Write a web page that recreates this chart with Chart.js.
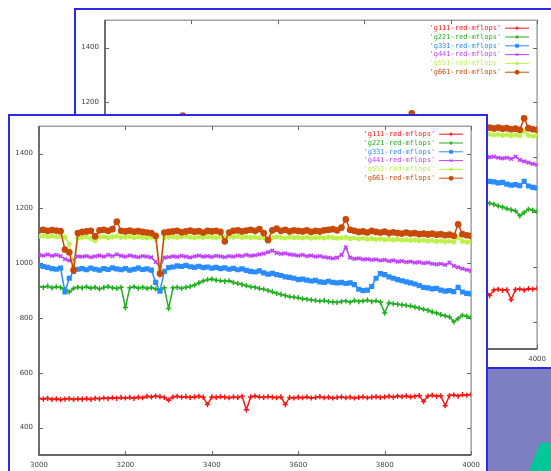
<!DOCTYPE html>
<html>
<head>
<meta charset="utf-8">
<script src="https://cdn.jsdelivr.net/npm/chart.js@4.4.1/dist/chart.umd.min.js"></script>
<style>
html, body { margin: 0; padding: 0; background: #fff; }
body { width: 551px; height: 471px; overflow: hidden; position: relative; }
.panel { position: absolute; width: 476px; height: 357px; border: 2px solid #2b2be6; background: #fff; }
.panel canvas { position: absolute; left: 0; top: 0; }
#desk { position: absolute; left: 488px; top: 369px; width: 63px; height: 102px; background: #7f7fc3; }
#shape { position: absolute; left: 529px; top: 443px; width: 22px; height: 28px; background: #00c896;
         clip-path: polygon(11px 0, 22px 0, 22px 28px, 0 28px); }
</style>
</head>
<body>
<div id="desk"></div>
<div id="shape"></div>
<div class="panel" style="left:74px; top:8px;"><canvas id="back" width="476" height="357"></canvas></div>
<div class="panel" style="left:8px; top:114px;"><canvas id="front" width="476" height="357"></canvas></div>
<script>
// one sample every 10 units, 3000..4000
const xs = Array.from({ length: 101 }, (_, i) => 3000 + i * 10);
const xTicks = [3000, 3200, 3400, 3600, 3800, 4000];
const yTicks = [400, 600, 800, 1000, 1200, 1400];

const names = ["'g111-red-mflops'", "'g221-red-mflops'", "'g331-red-mflops'",
               "'g441-red-mflops'", "'g551-red-mflops'", "'g661-red-mflops'"];
const colors = ['#ff1414', '#22ad22', '#2a8cff', '#c040ff', '#bdf04a', '#c84a08'];
const marks = ['cross', 'cross', 'rect', 'crossRot', 'star', 'circle'];

const g111 = [506,504,507,503,505,502,504,506,503,505,
              504,506,503,507,505,508,506,509,507,510,
              508,510,507,511,509,514,512,515,513,510,
              500,512,514,511,513,510,512,514,511,484,
              512,510,513,511,509,512,510,514,465,512,
              515,512,510,513,511,509,512,484,510,508,
              511,509,512,508,510,513,509,511,508,510,
              512,509,511,508,510,512,509,511,513,510,
              512,514,511,515,513,516,512,514,517,495,
              515,518,514,516,480,517,519,515,520,518,521];
const g221 = [915,912,916,910,914,911,905,895,908,912,
              910,914,909,912,906,911,915,910,908,912,
              838,910,914,909,912,908,911,906,900,910,
              835,910,912,908,912,915,920,928,935,940,
              942,938,936,934,936,930,926,922,918,914,
              912,908,905,900,896,890,886,882,878,876,
              874,870,868,866,864,862,864,860,858,857,
              860,862,858,864,860,862,865,860,863,858,
              818,855,852,850,848,846,844,840,836,832,
              828,822,818,812,808,804,786,798,810,806,802];
const g331 = [992,988,985,980,978,982,895,945,970,978,
              980,976,982,978,975,980,977,983,979,976,
              980,975,978,982,977,979,975,930,898,970,
              984,986,990,988,992,987,985,989,984,986,
              982,985,980,983,978,981,976,979,974,970,
              968,972,965,960,963,958,955,950,948,945,
              940,942,938,935,937,932,930,934,930,928,
              930,926,928,922,905,900,902,915,945,962,
              958,950,945,940,936,932,928,924,918,912,
              910,906,908,902,898,900,896,912,895,890,888];
const g441 = [1030,1028,1032,1027,1030,1026,1015,1010,1012,1025,
              1024,1026,1022,1025,1028,1024,1030,1026,1032,1027,
              1024,1028,1025,1022,1026,1024,1021,1005,985,1020,
              1022,1025,1023,1027,1024,1021,1025,1028,1024,1026,
              1023,1027,1025,1022,1026,1024,1028,1026,1030,1027,
              1029,1032,1035,1040,1046,1038,1034,1036,1032,1030,
              1028,1030,1026,1028,1024,1026,1022,1020,1018,1020,
              1030,1058,1020,1016,1018,1014,1015,1012,1014,1010,
              1012,1008,1010,1006,1008,1004,1006,1002,1004,1000,
              1002,998,996,998,994,1002,990,985,980,976,972];
const g551 = [1098,1100,1097,1099,1096,1098,1095,1070,985,1092,
              1094,1096,1090,1082,1095,1097,1093,1096,1099,1094,
              1095,1097,1093,1096,1094,1092,1095,1090,975,1093,
              1095,1097,1094,1096,1098,1095,1093,1096,1094,1097,
              1095,1093,1096,1094,1097,1095,1098,1094,1096,1093,
              1095,1092,1094,1080,1093,1096,1094,1092,1095,1093,
              1094,1092,1095,1091,1093,1094,1092,1095,1093,1091,
              1092,1094,1090,1092,1089,1091,1088,1090,1087,1089,
              1086,1088,1085,1087,1084,1086,1083,1085,1082,1084,
              1081,1083,1080,1082,1079,1081,1078,1095,1080,1077,1078];
const g661 = [1120,1122,1118,1121,1119,1117,1050,1040,975,1110,
              1114,1116,1118,1098,1120,1122,1118,1124,1152,1118,
              1116,1119,1115,1117,1114,1112,1110,1100,962,1112,
              1114,1116,1118,1113,1116,1119,1115,1117,1112,1118,
              1116,1118,1114,1080,1112,1118,1120,1116,1119,1122,
              1118,1124,1110,1085,1120,1126,1118,1122,1116,1120,
              1118,1116,1120,1114,1118,1116,1120,1122,1124,1120,
              1130,1160,1122,1118,1114,1116,1112,1118,1114,1112,
              1115,1110,1113,1110,1108,1112,1108,1110,1106,1108,
              1105,1108,1104,1106,1102,1104,1100,1142,1106,1102,1100];
const series = [g111, g221, g331, g441, g551, g661];

// gnuplot style frame with inward ticks on all four sides
const framePlugin = {
    id: 'frame',
    beforeDatasetsDraw(chart) {
        const { ctx, chartArea: a, scales: { x, y } } = chart;
        ctx.save();
        ctx.strokeStyle = '#8a8a8a';
        ctx.lineWidth = 1.2;
        ctx.strokeRect(a.left, a.top, a.right - a.left, a.bottom - a.top);
        ctx.strokeStyle = '#666';
        ctx.lineWidth = 1.8;
        ctx.beginPath();
        ctx.moveTo(a.left, a.top); ctx.lineTo(a.left, a.bottom); ctx.lineTo(a.right, a.bottom);
        ctx.stroke();
        ctx.lineWidth = 1;
        ctx.beginPath();
        xTicks.forEach(v => {
            const px = Math.round(x.getPixelForValue(v)) + 0.5;
            ctx.moveTo(px, a.bottom); ctx.lineTo(px, a.bottom - 4);
            ctx.moveTo(px, a.top); ctx.lineTo(px, a.top + 4);
        });
        yTicks.forEach(v => {
            const py = Math.round(y.getPixelForValue(v)) + 0.5;
            ctx.moveTo(a.left, py); ctx.lineTo(a.left + 4, py);
            ctx.moveTo(a.right, py); ctx.lineTo(a.right - 4, py);
        });
        ctx.stroke();
        ctx.restore();
    }
};

// key in the top right corner: text, then a sample of the line
const keyPlugin = {
    id: 'key',
    afterDatasetsDraw(chart) {
        const { ctx, chartArea: a } = chart;
        ctx.save();
        ctx.font = '7px "DejaVu Sans Mono"';
        ctx.textAlign = 'right';
        ctx.textBaseline = 'middle';
        names.forEach((name, i) => {
            const yy = a.top + 8 + i * 8.8;
            ctx.fillStyle = colors[i];
            ctx.fillText(name, a.right - 36, yy);
            ctx.strokeStyle = colors[i];
            ctx.lineWidth = 1;
            ctx.beginPath();
            ctx.moveTo(a.right - 32, yy);
            ctx.lineTo(a.right - 8, yy);
            ctx.stroke();
            Chart.helpers.drawPoint(ctx, {
                pointStyle: marks[i], radius: 2, borderWidth: 1
            }, a.right - 20, yy);
        });
        ctx.restore();
    }
};

const makeChart = (canvas) => new Chart(canvas.getContext('2d'), {
    type: 'line',
    data: {
        datasets: series.map((vals, i) => ({
            label: names[i],
            data: vals.map((v, k) => ({ x: xs[k], y: v })),
            borderColor: colors[i],
            backgroundColor: colors[i],
            pointStyle: marks[i],
            pointRadius: 2.6,
            pointBorderWidth: 1.5,
            borderWidth: 1.5,
            tension: 0,
            order: series.length - i
        }))
    },
    options: {
        responsive: false,
        animation: false,
        devicePixelRatio: 1,
        layout: { padding: { top: 7, right: 11, left: 0, bottom: 0 } },
        scales: {
            x: {
                type: 'linear',
                min: 3000,
                max: 4000,
                afterBuildTicks: s => { s.ticks = xTicks.map(v => ({ value: v })); },
                afterFit: s => { s.height = 18; },
                grid: { display: false, drawTicks: false },
                border: { display: false },
                ticks: {
                    font: { family: 'DejaVu Sans', size: 7 },
                    color: '#444',
                    padding: 6,
                    maxRotation: 0,
                    callback: v => String(v)
                }
            },
            y: {
                min: 300,
                max: 1500,
                afterBuildTicks: s => { s.ticks = yTicks.map(v => ({ value: v })); },
                afterFit: s => { s.width = 29; },
                grid: { display: false, drawTicks: false },
                border: { display: false },
                ticks: {
                    font: { family: 'DejaVu Sans', size: 7 },
                    color: '#444',
                    padding: 6,
                    callback: v => String(v)
                }
            }
        },
        plugins: {
            legend: { display: false },
            tooltip: { enabled: false }
        }
    },
    plugins: [framePlugin, keyPlugin]
});

makeChart(document.getElementById('back'));
makeChart(document.getElementById('front'));
</script>
</body>
</html>
